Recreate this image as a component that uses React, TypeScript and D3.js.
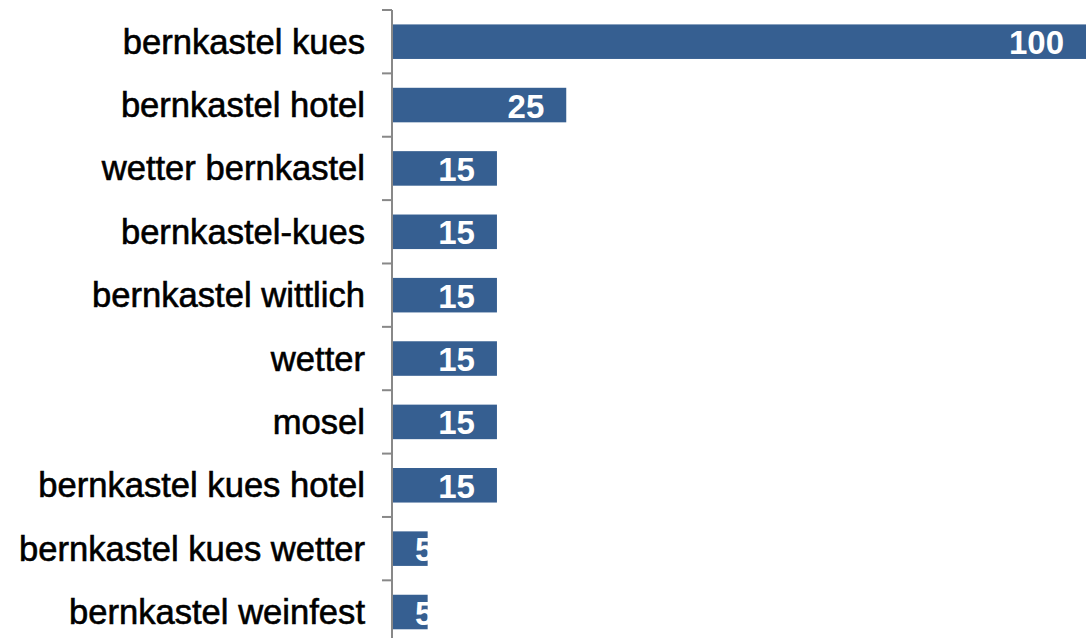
import React from "react";
import * as d3 from "d3";

const categories = [
  "bernkastel kues",
  "bernkastel hotel",
  "wetter bernkastel",
  "bernkastel-kues",
  "bernkastel wittlich",
  "wetter",
  "mosel",
  "bernkastel kues hotel",
  "bernkastel kues wetter",
  "bernkastel weinfest",
];
const values = [100, 25, 15, 15, 15, 15, 15, 15, 5, 5];

const W = 1086;
const H = 638;
const FONT = "'Liberation Sans', Arial, sans-serif";

function measure(text: string, size: number, weight: string) {
  if (typeof document === "undefined") return text.length * size * 0.556;
  const c = document.createElement("canvas");
  const ctx = c.getContext("2d")!;
  ctx.font = `${weight} ${size}px ${FONT}`;
  return ctx.measureText(text).width;
}

export default function App() {
  const axisX = 392;
  const x = d3.scaleLinear().domain([0, 100]).range([393, 1086]);
  const y = d3
    .scaleBand<string>()
    .domain(categories)
    .range([10, 10 + 63.37 * categories.length])
    .paddingInner(0.455)
    .paddingOuter(0.2275);
  const step = y.step();
  const tickYs = d3.range(categories.length + 1).map((i) => 10 + i * step);

  return (
    <svg
      width={W}
      height={H}
      style={{ position: "absolute", left: 0, top: 0, background: "#fff" }}
    >
      {categories.map((c, i) => {
        const y0 = y(c)!;
        const bw = y.bandwidth();
        const cy = y0 + bw / 2;
        const x1 = x(values[i]);
        const label = String(values[i]);
        const tw = measure(label, 33, "bold");
        let lx = x1 - 22;
        let anchor: "end" | "start" = "end";
        if (lx - tw < x(0) + 22) {
          lx = x(0) + 22;
          anchor = "start";
        }
        return (
          <g key={c}>
            <rect x={x(0)} y={y0} width={x1 - x(0)} height={bw} fill="#365F91" />
            <text
              x={lx}
              y={cy + 12.5}
              textAnchor={anchor}
              fontFamily={FONT}
              fontWeight="bold"
              fontSize={33}
              fill="#fff"
            >
              {label}
            </text>
            <text
              x={365}
              y={cy + 12}
              textAnchor="end"
              fontFamily={FONT}
              fontSize={34.6}
              fill="#000"
              stroke="#000"
              strokeWidth={0.6}
            >
              {c}
            </text>
          </g>
        );
      })}
      <line x1={axisX} x2={axisX} y1={10} y2={tickYs[tickYs.length - 1]} stroke="#888" strokeWidth={2} />
      {tickYs.map((t, i) => (
        <line key={i} x1={382} x2={axisX} y1={t} y2={t} stroke="#888" strokeWidth={2} />
      ))}
    </svg>
  );
}
